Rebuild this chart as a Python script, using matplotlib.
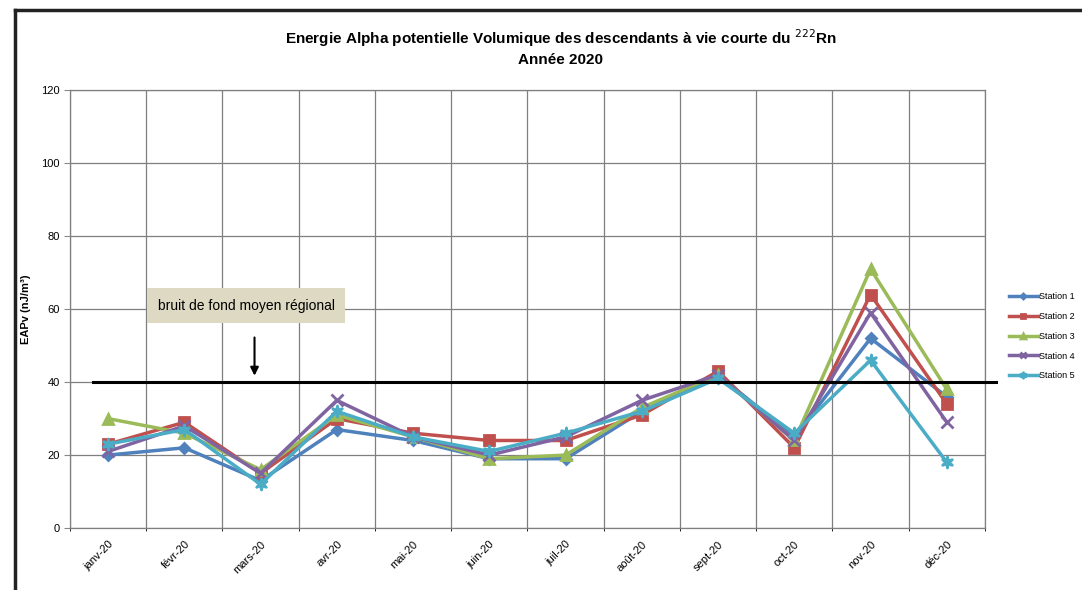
import matplotlib
matplotlib.use('Agg')
import matplotlib.pyplot as plt
import numpy as np

months = ['janv-20', 'févr-20', 'mars-20', 'avr-20', 'mai-20', 'juin-20',
          'juil-20', 'août-20', 'sept-20', 'oct-20', 'nov-20', 'déc-20']
station1 = [20, 22, 13, 27, 24, 19, 19, 32, 42, 25, 52, 36]
station2 = [23, 29, 15, 30, 26, 24, 24, 31, 43, 22, 64, 34]
station3 = [30, 26, 16, 31, 25, 19, 20, 33, 42, 24, 71, 38]
station4 = [21, 28, 15, 35, 25, 20, 25, 35, 42, 24, 59, 29]
station5 = [23, 27, 12, 32, 25, 21, 26, 32, 41, 26, 46, 18]
background_level = 40

plt.rcParams['font.family'] = ['Liberation Sans', 'DejaVu Sans']

fig = plt.figure(figsize=(10.82, 5.90), dpi=100)
ax = fig.add_axes([0.0647, 0.105, 0.8456, 0.742])

x = np.arange(len(months))
series = [
    ('Station 1', station1, '#4F81BD', 'D', 5),
    ('Station 2', station2, '#C0504D', 's', 7),
    ('Station 3', station3, '#9BBB59', '^', 7),
    ('Station 4', station4, '#8064A2', 'x', 8),
    ('Station 5', station5, '#4BACC6', '$\u2736$', 8),
]
for name, vals, col, mk, ms in series:
    ax.plot(x, vals, color=col, lw=2.5, marker=mk, ms=ms, mew=2,
            mec=col, mfc=col, label=name)

# regional background level
ax.plot([-0.2, 11.65], [background_level, background_level], color='black',
        lw=2.2, clip_on=False, zorder=5)

ax.set_xlim(-0.5, 11.5)
ax.set_ylim(0, 120)
ax.set_yticks(range(0, 121, 20))
ax.set_xticks(x)
ax.set_xticklabels(months, rotation=45, ha='right', rotation_mode='anchor',
                   fontsize=8)
ax.tick_params(axis='y', labelsize=8, length=4, color='#888888')
ax.tick_params(axis='x', length=0, pad=8)
ax.set_xticks(np.arange(-0.5, 12, 1), minor=True)
ax.grid(True, which='minor', axis='x', color='#7f7f7f', lw=0.9)
ax.grid(True, which='major', axis='y', color='#7f7f7f', lw=0.9)
ax.set_axisbelow(True)
for s in ax.spines.values():
    s.set_color('#7f7f7f')
    s.set_linewidth(0.9)

ax.set_ylabel('EAPv (nJ/m³)', fontsize=8, fontweight='bold', labelpad=7)

fig.text(0.518, 0.935, 'Energie Alpha potentielle Volumique des descendants à vie courte du $^{222}$Rn',
         ha='center', va='center', fontsize=11, fontweight='bold')
fig.text(0.518, 0.898, 'Année 2020', ha='center', va='center',
         fontsize=11, fontweight='bold')

ax.text(0.65, 61, 'bruit de fond moyen régional', fontsize=10,
        va='center', ha='left',
        bbox=dict(boxstyle='square,pad=0.75', fc='#DDD9C3', ec='none'))
ax.annotate('', xy=(1.92, 41), xytext=(1.92, 53),
            arrowprops=dict(arrowstyle='-|>', color='black', lw=1.5,
                            mutation_scale=12))

leg = fig.legend(loc='center left', bbox_to_anchor=(0.925, 0.43),
                 fontsize=6.5, frameon=False, handlelength=3.2,
                 handletextpad=0.1, labelspacing=1.2, markerscale=0.5)

# outer frame
fig.add_artist(plt.Line2D([0.014, 1.0], [0.983, 0.983], color='#222222', lw=2.5,
                          transform=fig.transFigure))
fig.add_artist(plt.Line2D([0.014, 0.014], [0.0, 0.983], color='#222222', lw=2.5,
                          transform=fig.transFigure))

fig.savefig('out.png', dpi=100)
